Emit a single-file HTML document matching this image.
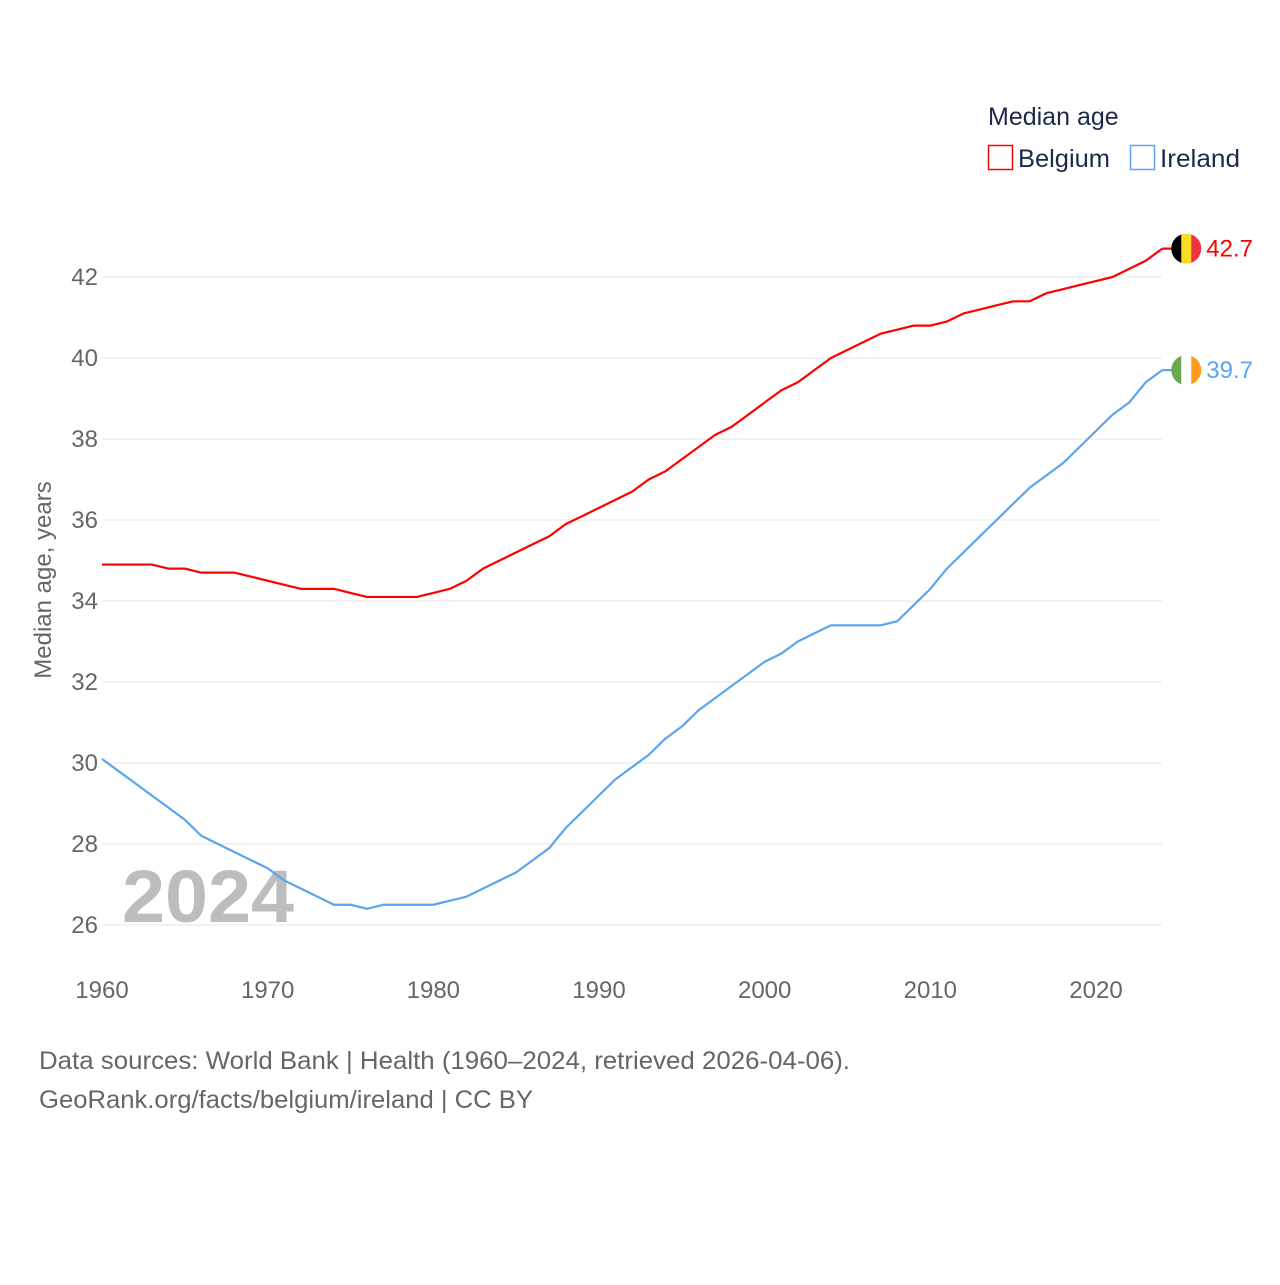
<!DOCTYPE html>
<html><head><meta charset="utf-8"><style>
body{margin:0;background:#fff;font-family:"Liberation Sans",sans-serif}
svg text{font-family:"Liberation Sans",sans-serif}
</style></head><body>
<svg id="chart" width="1280" height="1280" viewBox="0 0 1280 1280" xmlns="http://www.w3.org/2000/svg">
<g id="grid"></g>
<g id="yticks"></g>
<g id="xticks"></g>
<text x="122" y="922" font-size="74" font-weight="bold" fill="#bdbdbd" textLength="172" lengthAdjust="spacingAndGlyphs">2024</text>
<g id="series"></g>
<text transform="translate(51,580) rotate(-90)" text-anchor="middle" font-size="24" fill="#666">Median age, years</text>
<g>
<text x="988" y="125" font-size="25" fill="#1a2a4a">Median age</text>
<rect x="988.5" y="145.5" width="24" height="24" fill="none" stroke="#ff0000" stroke-width="1.5"/>
<text x="1018" y="167" font-size="25" fill="#1a2a4a" textLength="92" lengthAdjust="spacingAndGlyphs">Belgium</text>
<rect x="1130.5" y="145.5" width="24" height="24" fill="none" stroke="#5aa5ee" stroke-width="1.5"/>
<text x="1160" y="167" font-size="25" fill="#1a2a4a" textLength="80" lengthAdjust="spacingAndGlyphs">Ireland</text>
</g>
<text x="39" y="1069" font-size="25" fill="#666" textLength="811" lengthAdjust="spacingAndGlyphs">Data sources: World Bank | Health (1960–2024, retrieved 2026-04-06).</text>
<text x="39" y="1108" font-size="25" fill="#666" textLength="494" lengthAdjust="spacingAndGlyphs">GeoRank.org/facts/belgium/ireland | CC BY</text>
</svg>
<script>
const years=[];for(let y=1960;y<=2024;y++)years.push(y);
const belgium=[34.9,34.9,34.9,34.9,34.8,34.8,34.7,34.7,34.7,34.6,34.5,34.4,34.3,34.3,34.3,34.2,34.1,34.1,34.1,34.1,34.2,34.3,34.5,34.8,35.0,35.2,35.4,35.6,35.9,36.1,36.3,36.5,36.7,37.0,37.2,37.5,37.8,38.1,38.3,38.6,38.9,39.2,39.4,39.7,40.0,40.2,40.4,40.6,40.7,40.8,40.8,40.9,41.1,41.2,41.3,41.4,41.4,41.6,41.7,41.8,41.9,42.0,42.2,42.4,42.7];
const ireland=[30.1,29.8,29.5,29.2,28.9,28.6,28.2,28.0,27.8,27.6,27.4,27.1,26.9,26.7,26.5,26.5,26.4,26.5,26.5,26.5,26.5,26.6,26.7,26.9,27.1,27.3,27.6,27.9,28.4,28.8,29.2,29.6,29.9,30.2,30.6,30.9,31.3,31.6,31.9,32.2,32.5,32.7,33.0,33.2,33.4,33.4,33.4,33.4,33.5,33.9,34.3,34.8,35.2,35.6,36.0,36.4,36.8,37.1,37.4,37.8,38.2,38.6,38.9,39.4,39.7];
const yTicks=[26,28,30,32,34,36,38,40,42];
const xTicks=[1960,1970,1980,1990,2000,2010,2020];
const NS="http://www.w3.org/2000/svg";
const X=y=>102+(y-1960)*(1096-102)/60;
const Y=v=>925-(v-26)*(925-277)/16;
function mk(tag,attrs,parent){const e=document.createElementNS(NS,tag);for(const k in attrs)e.setAttribute(k,attrs[k]);parent.appendChild(e);return e;}
const grid=document.getElementById('grid'),yt=document.getElementById('yticks'),xt=document.getElementById('xticks'),sr=document.getElementById('series');
yTicks.forEach(v=>{
 const l=mk('line',{x1:102,x2:1162,y1:Y(v),y2:Y(v),stroke:'#e6e6e6','stroke-width':1},grid);
 
 
 const t=mk('text',{x:98,y:Y(v)+8,'text-anchor':'end','font-size':24,fill:'#666'},yt);t.textContent=v;
 
 
});
xTicks.forEach(v=>{
 const t=mk('text',{x:X(v),y:998,'text-anchor':'middle','font-size':24,fill:'#666'},xt);t.textContent=v;
 
 
});
function line(data,color,name){
 const p=mk('polyline',{points:data.map((v,i)=>X(years[i])+','+Y(v)).join(' '),fill:'none',stroke:color,'stroke-width':2.2,'stroke-linejoin':'round'},sr);
 
 
}
line(belgium,'#ff0000','belgium-line');
line(ireland,'#5aa5ee','ireland-line');
function flag(data,cols,color,name){
 const v=data[data.length-1],cx=X(2024)+24,cy=Y(v);
 mk('line',{x1:X(2024),x2:cx,y1:cy,y2:cy,stroke:color,'stroke-width':2.2},sr);
 const g=mk('g',{},sr);
 
 
 const cp=mk('clipPath',{id:'cp'+name},g);mk('circle',{cx:cx,cy:cy,r:15},cp);
 cols.forEach((c,i)=>mk('rect',{x:cx-15+i*10,y:cy-15,width:10.5,height:30,fill:c,'clip-path':'url(#cp'+name+')'},g));
 const t=mk('text',{x:cx+20,y:cy+8,'font-size':24,fill:color},sr);t.textContent=v.toFixed(1);
 
 
}
flag(belgium,['#000','#fdda24','#ef3340'],'#ff0000','belgium');
flag(ireland,['#6aa84f','#fff','#ff9a1f'],'#5aa5ee','ireland');
</script>
</body></html>
